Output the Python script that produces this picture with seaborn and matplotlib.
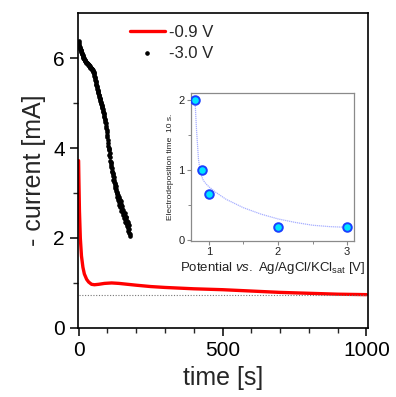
import numpy as np
import pandas as pd
import matplotlib.pyplot as plt
import seaborn as sns

# -0.9 V transient (red line)
t_09 = [0, 1, 3, 6, 10, 15, 20, 28, 35, 45, 55, 70, 90, 115, 140, 170, 200, 250, 300,
        400, 500, 600, 700, 800, 900, 1000]
i_09 = [3.72, 3.3, 2.6, 2.0, 1.6, 1.35, 1.2, 1.08, 1.02, 0.97, 0.96, 0.97, 0.99, 1.0,
        0.99, 0.97, 0.95, 0.92, 0.9, 0.87, 0.85, 0.82, 0.79, 0.77, 0.75, 0.74]

# -3.0 V transient (black dots), even seconds
t_30_even = list(range(0, 180, 2))
i_30_even = [6.38, 6.30, 6.25, 6.21, 6.18, 6.14, 6.10, 6.06, 6.03, 6.00,
             5.97, 5.95, 5.93, 5.91, 5.90, 5.88, 5.87, 5.85, 5.84, 5.82,
             5.80, 5.79, 5.77, 5.76, 5.74, 5.72, 5.69, 5.64, 5.58, 5.52,
             5.46, 5.40, 5.35, 5.29, 5.24, 5.19, 5.14, 5.10, 5.05, 5.01,
             4.95, 4.91, 4.86, 4.80, 4.75, 4.68, 4.62, 4.55, 4.45, 4.35,
             4.25, 4.12, 4.01, 3.95, 3.88, 3.72, 3.70, 3.58, 3.55, 3.42,
             3.38, 3.35, 3.25, 3.20, 3.12, 3.15, 3.02, 2.98, 2.95, 2.88,
             2.92, 2.80, 2.76, 2.82, 2.70, 2.65, 2.72, 2.58, 2.55, 2.50,
             2.56, 2.42, 2.40, 2.47, 2.32, 2.30, 2.22, 2.28, 2.12, 2.05]
# odd seconds
t_30_odd = list(range(1, 179, 2))
i_30_odd = [6.33, 6.27, 6.23, 6.19, 6.16, 6.12, 6.08, 6.04, 6.01, 5.98,
            5.96, 5.94, 5.92, 5.90, 5.89, 5.87, 5.86, 5.84, 5.83, 5.81,
            5.79, 5.78, 5.76, 5.75, 5.73, 5.70, 5.66, 5.61, 5.55, 5.49,
            5.43, 5.37, 5.32, 5.27, 5.22, 5.17, 5.12, 5.08, 5.03, 4.98,
            4.93, 4.88, 4.83, 4.78, 4.72, 4.65, 4.58, 4.50, 4.40, 4.30,
            4.18, 4.05, 3.98, 3.85, 3.80, 3.66, 3.62, 3.50, 3.47, 3.44,
            3.30, 3.28, 3.16, 3.22, 3.05, 3.08, 2.92, 3.00, 2.84, 2.86,
            2.74, 2.85, 2.68, 2.75, 2.60, 2.62, 2.52, 2.63, 2.45, 2.53,
            2.36, 2.46, 2.34, 2.38, 2.26, 2.35, 2.15, 2.20, 2.08]

baseline = 0.74

# inset: electrodeposition time vs potential
pot = [0.8, 0.9, 1.0, 2.0, 3.0]
dep_time = [2.0, 1.0, 0.65, 0.18, 0.18]
fit_pot = [0.8, 0.82, 0.85, 0.88, 0.92, 0.96, 1.0, 1.1, 1.25, 1.5, 1.75, 2.0, 2.25, 2.5, 2.75, 3.0]
fit_time = [2.0, 1.6, 1.15, 0.95, 0.85, 0.8, 0.76, 0.68, 0.58, 0.46, 0.37, 0.3, 0.25, 0.21, 0.19, 0.18]

t_30 = t_30_even + t_30_odd
i_30 = i_30_even + i_30_odd

sns.set_style("ticks")
plt.rcParams['font.family'] = ['Liberation Sans', 'DejaVu Sans']
plt.rcParams['mathtext.fontset'] = 'custom'
plt.rcParams['mathtext.rm'] = 'Liberation Sans'
plt.rcParams['mathtext.it'] = 'Liberation Sans:italic'

fig = plt.figure(figsize=(3.96, 3.97), dpi=100)
ax = fig.add_axes([0.197, 0.174, 0.732, 0.793])

sns.lineplot(x=t_09, y=i_09, ax=ax, color='#ff0000', lw=2.4, label='-0.9 V')
ax.plot(t_30, i_30, ls='none', marker='o', ms=2.3, color='black', label='-3.0 V')
ax.hlines(baseline, t_09[0], t_09[-1], colors='#777777', linestyles=(0, (1, 1.5)), lw=0.8)

ax.set_xlim(-2, 1005)
ax.set_ylim(0, 7.0)
ax.set_xticks([0, 500, 1000])
ax.set_xticks(np.arange(0, 1001, 100), minor=True)
ax.set_yticks([0, 2, 4, 6])
ax.set_yticks([1, 3, 5], minor=True)
ax.tick_params(which='major', direction='out', length=6, width=1.1, labelsize=15, colors='black')
ax.tick_params(which='minor', direction='out', length=3.5, width=1.0)
for s in ax.spines.values():
    s.set_linewidth(1.2)
    s.set_color('black')
ax.set_xlabel('time [s]', fontsize=18, labelpad=4)
ax.set_ylabel('- current [mA]', fontsize=18, labelpad=5)

leg = ax.legend(loc='upper left', bbox_to_anchor=(0.156, 0.984), borderaxespad=0,
                frameon=False, fontsize=12, handlelength=2.1, handletextpad=0.25,
                labelspacing=0.4, markerscale=1.0)

# inset
ins = fig.add_axes([0.482, 0.393, 0.412, 0.373])
ins.plot(fit_pot, fit_time, color='#a8b0ff', lw=0.9, ls=(0, (1, 0.6)))
sns.scatterplot(x=pot, y=dep_time, ax=ins, s=38, color='#00e5ff', edgecolor='#1a40ff',
                linewidth=1.4, zorder=3)
ins.set_xlim(0.74, 3.1)
ins.set_ylim(-0.015, 2.1)
ins.set_xticks([1, 2, 3])
ins.set_xticks([1.5, 2.5], minor=True)
ins.set_yticks([0, 1, 2])
ins.set_yticks([0.5, 1.5], minor=True)
ins.tick_params(which='major', direction='out', length=3, width=0.8, labelsize=8,
                color='#888888', labelcolor='#222222', pad=1.5)
ins.tick_params(which='minor', direction='out', length=2, width=0.7, color='#888888')
for s in ins.spines.values():
    s.set_linewidth(0.9)
    s.set_color('#8a8a8a')
ins.set_xlabel(r'Potential $\it{vs.}$ Ag/AgCl/KCl$_{\rm sat}$ [V]', fontsize=9.5, labelpad=2,
               color='#222222')
ins.set_ylabel('Electrodeposition time  10 s.', fontsize=6, labelpad=3, color='#222222')

fig.savefig('out.png', dpi=100)
